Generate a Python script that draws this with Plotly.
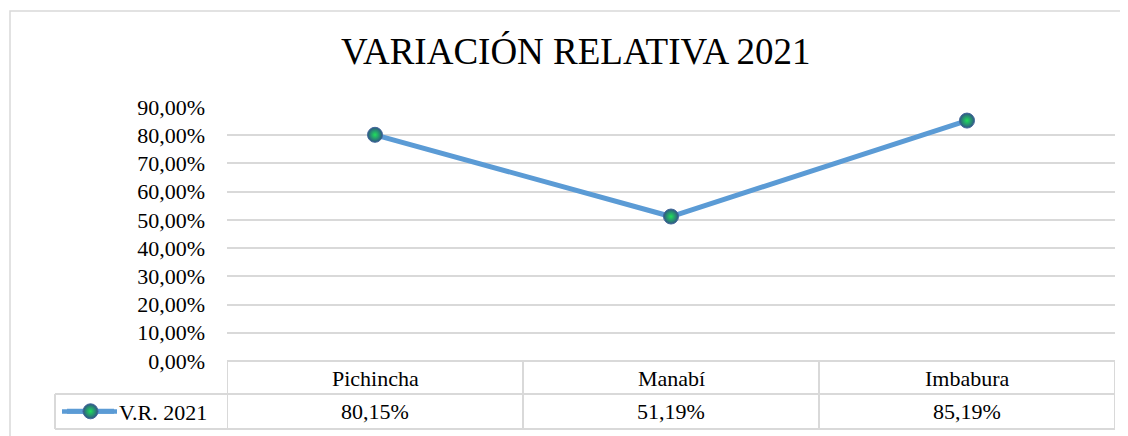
import plotly.graph_objects as go

# ---- data ----
categories = ["Pichincha", "Manabí", "Imbabura"]
values = [0.8015, 0.5119, 0.8519]
series_name = "V.R. 2021"
title_text = "VARIACIÓN RELATIVA 2021"

# ---- layout geometry (screen pixels; page body has an 8px margin) ----
OFF = 8
W, H = 1128 - OFF, 436 - OFF
L, R, T, B = 227, 1115, 107, 361
FONT = "'Liberation Serif', 'Times New Roman', Times, serif"
GRID = "#D9D9D9"


def px(x):
    return (x - L) / (R - L)


def py(y):
    return (B - y) / (B - T)


def fmt(v):
    return f"{v * 100:.2f}%".replace(".", ",")


fig = go.Figure()
fig.add_trace(go.Scatter(
    x=categories, y=values, name=series_name, mode="lines+markers",
    line=dict(color="#5B9BD5", width=5),
    marker=dict(size=15, color="#2F5483",
                gradient=dict(type="radial", color="#1FE05A"),
                line=dict(color="#41679A", width=1)),
    showlegend=True, cliponaxis=False,
))

shapes = []
# outer chart border
shapes.append(dict(type="rect", xref="paper", yref="paper",
                   x0=px(10), x1=px(1170), y0=py(11), y1=py(470),
                   line=dict(color=GRID, width=1.5), layer="below"))
# table horizontal lines
for yy, x0 in [(361, L), (394, 55), (429, 55)]:
    shapes.append(dict(type="line", xref="paper", yref="paper",
                       x0=px(x0), x1=px(R), y0=py(yy), y1=py(yy),
                       line=dict(color=GRID, width=2), layer="below"))
# legend cell left edge
shapes.append(dict(type="line", xref="paper", yref="paper",
                   x0=px(55), x1=px(55), y0=py(394), y1=py(429),
                   line=dict(color=GRID, width=2), layer="below"))
# column dividers
for i in range(len(categories) + 1):
    shapes.append(dict(type="line", xref="x", yref="paper",
                       x0=i - 0.5, x1=i - 0.5, y0=py(361), y1=py(429),
                       line=dict(color=GRID, width=2), layer="below"))
# legend swatch line extension
shapes.append(dict(type="line", xref="paper", yref="paper",
                   x0=px(62), x1=px(117), y0=py(411.5), y1=py(411.5),
                   line=dict(color="#5B9BD5", width=4.5), layer="below"))

annotations = []
annotations.append(dict(text=title_text, xref="paper", yref="paper",
                        x=px(575.5), y=py(52), xanchor="center", yanchor="middle",
                        showarrow=False, font=dict(family=FONT, size=37, color="black")))
for c, v in zip(categories, values):
    annotations.append(dict(text=c, xref="x", yref="paper", x=c, y=py(378),
                            xanchor="center", yanchor="middle", showarrow=False,
                            font=dict(family=FONT, size=22, color="black")))
    annotations.append(dict(text=fmt(v), xref="x", yref="paper", x=c, y=py(411),
                            xanchor="center", yanchor="middle", showarrow=False,
                            font=dict(family=FONT, size=22, color="black")))

# screen coords -> figure container fractions
LEG_X, LEG_Y = 62 - OFF, 411.5 - OFF

fig.update_layout(
    width=W, height=H, autosize=False,
    margin=dict(l=L - OFF, r=W - (R - OFF), t=T - OFF, b=H - (B - OFF), pad=0),
    paper_bgcolor="white", plot_bgcolor="white",
    separators=",.",
    font=dict(family=FONT, size=22, color="black"),
    shapes=shapes, annotations=annotations,
    legend=dict(xref="container", yref="container",
                x=LEG_X / W, y=1 - LEG_Y / H, xanchor="left", yanchor="middle",
                bgcolor="rgba(0,0,0,0)", font=dict(family=FONT, size=22, color="black"),
                itemwidth=47),
    xaxis=dict(range=[-0.5, len(categories) - 0.5], showticklabels=False,
               showgrid=False, zeroline=False, showline=False, fixedrange=True),
    yaxis=dict(range=[0, 0.9], dtick=0.1, tickformat=".2%", showgrid=True,
               gridcolor=GRID, gridwidth=1.5, zeroline=False, showline=False,
               ticks="", ticklabelstandoff=21, automargin=False,
               tickfont=dict(family=FONT, size=22, color="black")),
)

fig.write_html("out.html")
